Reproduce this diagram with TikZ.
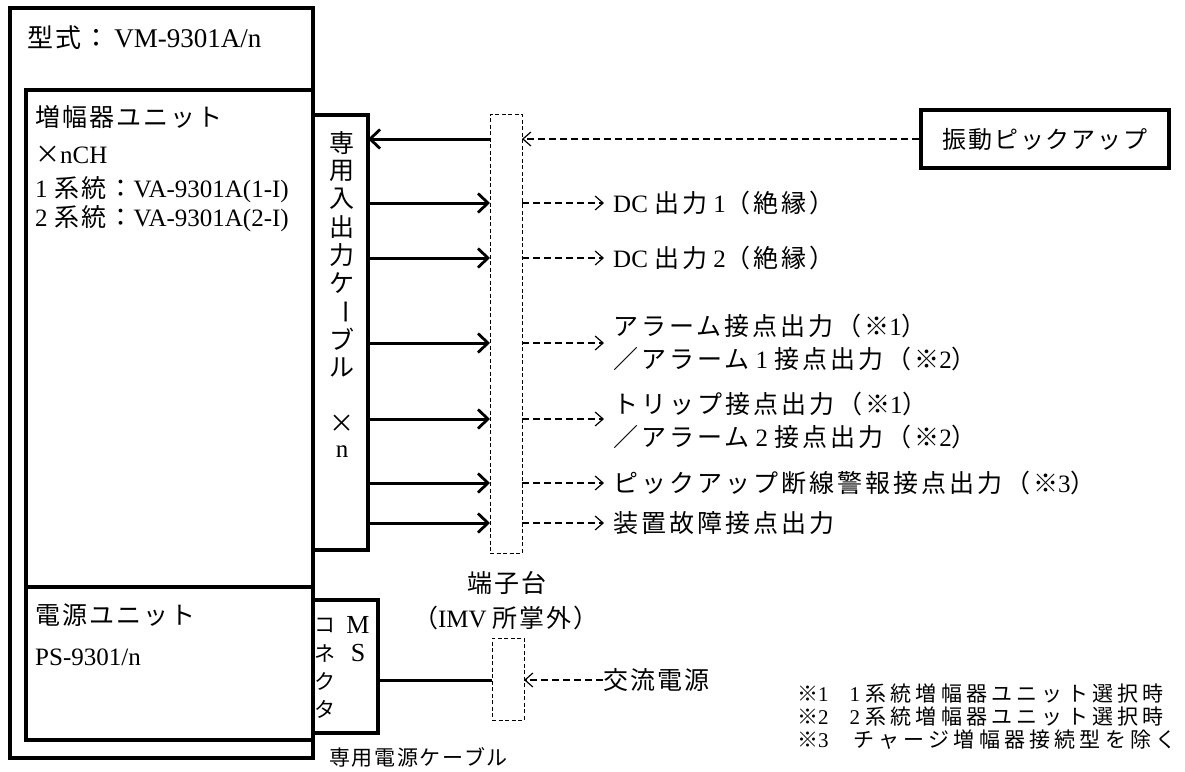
\documentclass[tikz,border=0pt]{standalone}
\usepackage{fontspec}
\setmainfont{Liberation Serif}
\newfontfamily\jp[LetterSpace=8]{Noto Sans CJK JP}
\newfontfamily\jr[LetterSpace=12]{Noto Sans CJK JP}
\newfontfamily\jpn{Noto Sans CJK JP}
\newfontfamily\jpw[LetterSpace=20]{Noto Sans CJK JP}
\usetikzlibrary{arrows.meta}
\newcommand\J[1]{{\jp #1}}
\newcommand\JR[1]{{\jr #1}}
\newcommand\JN[1]{{\jpn #1}}
\newcommand\JW[1]{{\jpw #1}}
\begin{document}
\begin{tikzpicture}[x=1pt,y=-1pt,
  ubox/.style={draw, line width=3.6pt, inner sep=0pt, outer sep=0pt, anchor=north west},
  tbox/.style={draw, line width=1pt, dash pattern=on 4pt off 2.5pt, inner sep=0pt, outer sep=0pt, anchor=north west},
  lt/.style={font=\fontsize{25}{28}\selectfont, inner sep=0pt, anchor=west},
  rt/.style={font=\fontsize{25}{33}\selectfont, inner sep=0pt, anchor=west},
  nt/.style={font=\fontsize{21}{23}\selectfont, inner sep=0pt, anchor=west},
  vt/.style={font=\fontsize{25}{26}\selectfont, inner sep=0pt, anchor=center},
  sarrow/.style={line width=3pt, -{Straight Barb[length=10pt,width=19pt,line width=2.8pt]}},
  darrow/.style={line width=1.1pt, dash pattern=on 7pt off 4pt, -{Straight Barb[length=8pt,width=14pt,line width=1.2pt]}},
]
\useasboundingbox (0,0) rectangle (1185,771);
\fill[white] (0,0) rectangle (1185,771);

% boxes
\node[ubox, minimum width=303pt, minimum height=750pt] (outer) at (10,8) {};
\node[ubox, minimum width=287pt, minimum height=497pt] (amp) at (26,90) {};
\node[ubox, minimum width=287pt, minimum height=153pt] (psu) at (26,587) {};
\node[ubox, line width=3.3pt, minimum width=55pt, minimum height=435pt] (cable) at (313,115) {};
\node[ubox, line width=3.3pt, minimum width=65pt, minimum height=133pt] (ms) at (313,600) {};
\node[tbox, minimum width=32pt, minimum height=439pt] (tb1) at (490,114) {};
\node[tbox, minimum width=32pt, minimum height=82pt] (tb2) at (492,638) {};
\node[draw, line width=3.3pt, minimum width=248pt, minimum height=58pt, inner sep=0pt, font=\fontsize{24}{26}\selectfont] (pick) at (1045,139) {\J{振動ピックアップ}};

% left texts
\node[lt, font=\fontsize{26}{28}\selectfont] (model) at (27,38) {\J{型式：}\hspace{5pt}\fontsize{27}{28}\selectfont VM-9301A/n};
\node[lt] (ampA) at (35,117) {\J{増幅器ユニット}};
\node[lt] (ampB) at (35,155) {\J{×}nCH};
\node[lt] (ampC) at (35,190) {1\hspace{7pt}\J{系統：}VA-9301A(1-I)};
\node[lt] (ampD) at (35,219) {2\hspace{7pt}\J{系統：}VA-9301A(2-I)};
\node[lt] (psuA) at (35,615) {\J{電源ユニット}};
\node[lt] (psuB) at (35,657) {PS-9301/n};

% cable vertical text
\foreach \c [count=\i from 0] in {専,用,入,出,力,ケ}{
  \node[vt] (cv\i) at (342,143+28.1*\i) {\JN{\c}};
}
\node[vt] (cv6) at (342,143+28.1*6) {\rotatebox[origin=c]{-90}{\JN{ー}}};
\node[vt] (cv7) at (342,143+28.1*7) {\JN{ブ}};
\node[vt] (cv8) at (342,143+28.1*8) {\JN{ル}};
\node[vt] (cvx) at (342,143+28.1*10) {\JN{×}};
\node[vt] (cvn) at (342,143+28.1*11) {n};
% MS connector text
\foreach \c [count=\i from 0] in {コ,ネ,ク,タ}{
  \node[vt, font=\fontsize{21}{24}\selectfont] (mk\i) at (325,625+28.3*\i) {\JN{\c}};
}
\node[vt, font=\fontsize{26}{28}\selectfont] (msM) at (358,625) {M};
\node[vt, font=\fontsize{26}{28}\selectfont] (msS) at (358,653) {S};

% rows
\coordinate (r0) at (0,139);
\coordinate (r1) at (0,203);
\coordinate (r2) at (0,258);
\coordinate (r3) at (0,343);
\coordinate (r4) at (0,419);
\coordinate (r5) at (0,483);
\coordinate (r6) at (0,523);
\coordinate (rp) at (0,680);

% right labels
\node[rt] (o1) at (613,203) {DC \JR{出力} 1\JR{（絶縁）}};
\node[rt] (o2) at (613,258) {DC \JR{出力} 2\JR{（絶縁）}};
\node[rt, align=left] (o3) at (613,342) {\JR{アラーム接点出力（※}1\JR{）}\\\JR{／アラーム} 1 \JR{接点出力（※}2\JR{）}};
\node[rt, align=left] (o4) at (613,420) {\JR{トリップ接点出力（※}1\JR{）}\\\JR{／アラーム} 2 \JR{接点出力（※}2\JR{）}};
\node[rt] (o5) at (613,483) {\JR{ピックアップ断線警報接点出力（※}3\JR{）}};
\node[rt] (o6) at (613,523) {\JR{装置故障接点出力}};

% connectors
\draw[sarrow] (tb1.west |- r0) -- (cable.east |- r0);
\draw[darrow] (pick.west) -- (tb1.east |- r0);
\foreach \r/\o in {r1/o1,r2/o2,r3/o3,r4/o4,r5/o5,r6/o6}{
  \draw[sarrow] (cable.east |- \r) -- (tb1.west |- \r);
  \draw[darrow] (tb1.east |- \r) -- ([xshift=-9pt]\o.west |- \r);
}

% terminal labels
\node[font=\fontsize{25}{26}\selectfont, inner sep=0pt] (tbl1) at (507,583) {\J{端子台}};
\node[font=\fontsize{25}{26}\selectfont, inner sep=0pt] (tbl2) at (506,618) {\J{（}IMV \J{所掌外）}};

% power
\node[rt] (ac) at (603,680) {\J{交流電源}};
\draw[line width=3pt] (ms.east |- rp) -- (tb2.west |- rp);
\draw[darrow] (ac.west) -- (tb2.east |- rp);
\node[lt, font=\fontsize{21}{26}\selectfont] (pcab) at (329,757) {\J{専用電源ケーブル}};

% notes
\node[nt] (n1) at (797,694) {\JW{※}1\JW{　}1 \JW{系統増幅器ユニット選択時}};
\node[nt] (n2) at (797,717) {\JW{※}2\JW{　}2 \JW{系統増幅器ユニット選択時}};
\node[nt] (n3) at (797,740) {\JW{※}3\JW{　}\hspace{4pt}\JW{チャージ増幅器接続型を除く}};
\end{tikzpicture}
\end{document}
